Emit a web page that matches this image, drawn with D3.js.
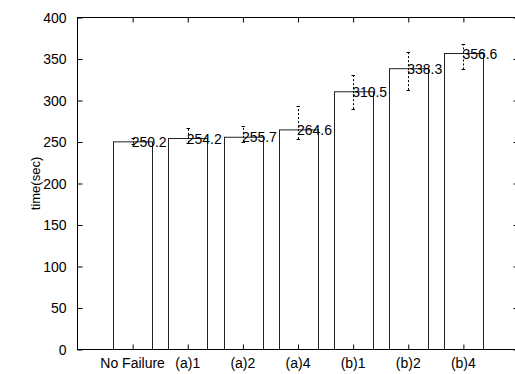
<!DOCTYPE html>
<html>
<head>
<meta charset="utf-8">
<script src="https://cdn.jsdelivr.net/npm/d3@7"></script>
<style>
  body { margin: 0; background: #fff; }
  svg { display: block; font-family: "Liberation Sans", Arial, sans-serif; }
  .frame { fill: none; stroke: #000; stroke-width: 1; }
  .bar { fill: none; stroke: #222; stroke-width: 1; }
  .err { stroke: #000; stroke-width: 1; fill: none; }
  .tick line { stroke: #000; }
</style>
</head>
<body>
<div id="chart"></div>
<script>
// -------------------------------------------------------------------------- //
//                              DATA                                          //
// -------------------------------------------------------------------------- //

var categories = ["No Failure", "(a)1", "(a)2", "(a)4", "(b)1", "(b)2", "(b)4"];
var values     = [250.2, 254.2, 255.7, 264.6, 310.5, 338.3, 356.6];
var errLow     = [248.0, 249.0, 250.2, 253.5, 289.6, 312.5, 337.4];
var errHigh    = [255.0, 266.6, 269.5, 293.4, 330.5, 358.6, 367.5];
var yTicks     = [0, 50, 100, 150, 200, 250, 300, 350, 400];
var yLabel     = "time(sec)";

// -------------------------------------------------------------------------- //
//                              BAR CHART                                     //
// -------------------------------------------------------------------------- //

function barChart (svg)
{
    var left = 77.5, right = 518.5, top = 17.5, bottom = 349.5;

    // ranges
    var x = d3.scaleLinear().domain([-1, 7]).range([left, right]);
    var y = d3.scaleLinear().domain([0, 400]).range([bottom, top]);

    var data = categories.map(function (c, i) {
        return { name: c, index: i, value: values[i], lo: errLow[i], hi: errHigh[i] };
    });

    var boxWidth = 0.7;

    // bars (outline only)
    svg.selectAll(".bar")
      .data(data)
      .enter().append("rect")
      .attr("class", "bar")
      .attr("x", function (d) { return Math.round(x(d.index - boxWidth / 2)) + 0.5; })
      .attr("y", function (d) { return y(d.value); })
      .attr("width", function (d) { return Math.round(x(boxWidth) - x(0)); })
      .attr("height", function (d) { return bottom - y(d.value); });

    // dashed error bars
    svg.selectAll(".errline")
      .data(data)
      .enter().append("line")
      .attr("class", "err")
      .attr("x1", function (d) { return Math.round(x(d.index)) + 0.5; })
      .attr("x2", function (d) { return Math.round(x(d.index)) + 0.5; })
      .attr("y1", function (d) { return y(d.lo); })
      .attr("y2", function (d) { return y(d.hi); })
      .attr("stroke-dasharray", "2,2");

    // caps
    ["lo", "hi"].forEach(function (k) {
        svg.selectAll(".cap-" + k)
          .data(data)
          .enter().append("line")
          .attr("class", "err cap-" + k)
          .attr("x1", function (d) { return Math.round(x(d.index)) - 1.5; })
          .attr("x2", function (d) { return Math.round(x(d.index)) + 2; })
          .attr("y1", function (d) { return Math.round(y(d[k])) + 0.5; })
          .attr("y2", function (d) { return Math.round(y(d[k])) + 0.5; });
    });

    // value labels
    svg.selectAll(".vlabel")
      .data(data)
      .enter().append("text")
      .attr("class", "vlabel")
      .attr("x", function (d) { return x(d.index) - 1; })
      .attr("y", function (d) { return y(d.value); })
      .attr("dy", "0.36em")
      .attr("font-size", "14px")
      .text(function (d) { return d.value.toFixed(1); });

    // axes: ticks point inward, mirrored on top / right
    var tickLen = 5;

    svg.append("g")
      .attr("transform", "translate(0," + bottom + ")")
      .call(d3.axisTop(x).tickValues(d3.range(categories.length)).tickSize(tickLen).tickFormat(""))
      .call(function (g) { g.select(".domain").remove(); });

    svg.append("g")
      .attr("transform", "translate(0," + top + ")")
      .call(d3.axisBottom(x).tickValues(d3.range(categories.length)).tickSize(tickLen).tickFormat(""))
      .call(function (g) { g.select(".domain").remove(); });

    svg.append("g")
      .attr("transform", "translate(" + left + ",0)")
      .call(d3.axisRight(y).tickValues(yTicks).tickSize(tickLen).tickFormat(""))
      .call(function (g) { g.select(".domain").remove(); });

    svg.append("g")
      .attr("transform", "translate(" + right + ",0)")
      .call(d3.axisLeft(y).tickValues(yTicks).tickSize(tickLen).tickFormat(""))
      .call(function (g) { g.select(".domain").remove(); });

    // tick labels
    svg.selectAll(".ylab")
      .data(yTicks)
      .enter().append("text")
      .attr("x", left - 11)
      .attr("y", function (d) { return y(d); })
      .attr("dy", "0.36em")
      .attr("text-anchor", "end")
      .attr("font-size", "14px")
      .text(function (d) { return d; });

    svg.selectAll(".xlab")
      .data(data)
      .enter().append("text")
      .attr("x", function (d) { return x(d.index); })
      .attr("y", bottom + 18)
      .attr("text-anchor", "middle")
      .attr("font-size", "14px")
      .text(function (d) { return d.name; });

    // frame
    svg.append("rect")
      .attr("class", "frame")
      .attr("x", left)
      .attr("y", top)
      .attr("width", right - left)
      .attr("height", bottom - top);

    // y axis title
    svg.append("text")
      .attr("transform", "translate(40," + ((top + bottom) / 2) + ") rotate(-90)")
      .attr("text-anchor", "middle")
      .attr("font-size", "13px")
      .text(yLabel);
}

var svg = d3.select("#chart").append("svg")
    .attr("width", 515)
    .attr("height", 374);

barChart(svg);
</script>
</body>
</html>
